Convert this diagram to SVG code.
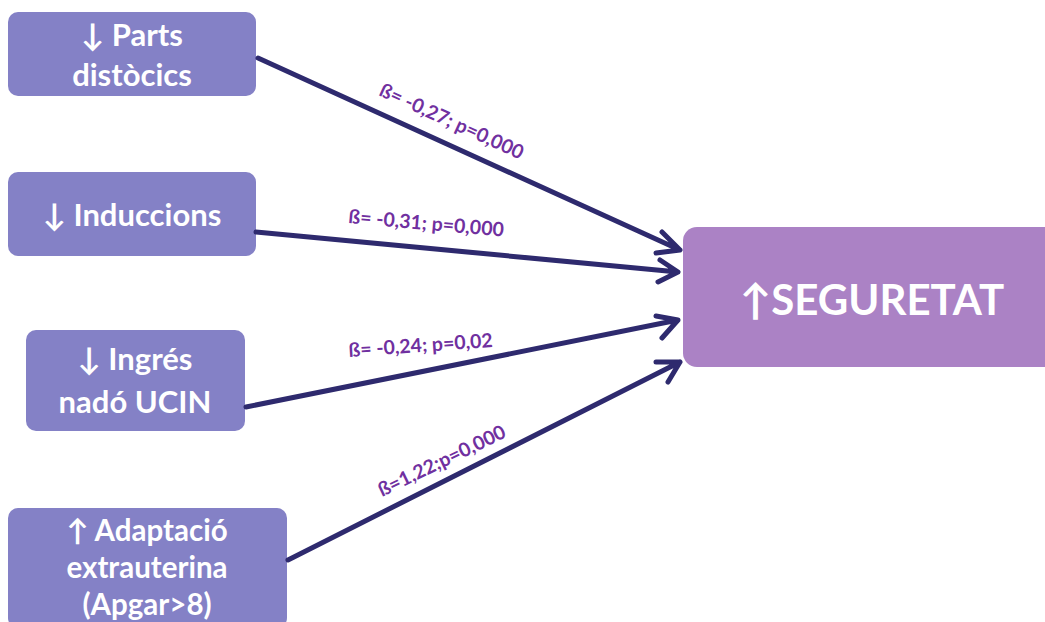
<svg xmlns="http://www.w3.org/2000/svg" width="1045" height="622" viewBox="0 0 1045 622">
<style>
.src{fill:#8481C6}
.dst{fill:#AB82C5}
.t{font-family:Lato,"Liberation Sans",sans-serif;font-weight:bold;fill:#fff;text-anchor:middle}
.b{font-size:31px}
.s{font-size:29.5px}
.big{font-size:42px}
.lbl{font-family:Lato,"Liberation Sans",sans-serif;font-weight:bold;font-size:19.5px;fill:#7030A0}
.c{stroke:#2E2A6E;stroke-width:5;fill:none;stroke-linecap:round;stroke-linejoin:round}
</style>
<rect width="1045" height="622" fill="#fff"/>
<g id="n1"><rect class="src" x="8" y="12" width="248" height="84" rx="10"/>
<text class="t b" x="132" y="46">↓ Parts</text><text class="t b" x="132" y="86">distòcics</text></g>
<g id="n2"><rect class="src" x="8" y="172" width="248" height="84" rx="10"/>
<text class="t b" x="132" y="226">↓ Induccions</text></g>
<g id="n3"><rect class="src" x="26" y="330" width="219" height="101" rx="10"/>
<text class="t b" x="135" y="370">↓ Ingrés</text><text class="t b" x="135" y="413">nadó UCIN</text></g>
<g id="n4"><rect class="src" x="8" y="508" width="279" height="120" rx="10"/>
<text class="t s" x="147" y="541">↑ Adaptació</text><text class="t s" x="147" y="578">extrauterina</text><text class="t s" x="147" y="615">(Apgar&gt;8)</text></g>
<g id="n5"><rect class="dst" x="683" y="227" width="380" height="140" rx="14"/>
<text class="t big" x="872" y="315">↑SEGURETAT</text></g>
<g id="connectors">
<path class="c" d="M258,58 L680,250 M662,232 L680,250 L656,253"/>
<path class="c" d="M256,232 L678,272 M660,260 L678,272 L658,282"/>
<path class="c" d="M246,407 L678,320 M656,316 L678,320 L662,338"/>
<path class="c" d="M288,560 L680,362 M656,362 L680,362 L668,382"/>
</g>
<g id="labels">
<text class="lbl" transform="translate(378,95) rotate(24.5)">ß= -0,27; p=0,000</text>
<text class="lbl" transform="translate(348,223) rotate(5)">ß= -0,31; p=0,000</text>
<text class="lbl" transform="translate(349,357) rotate(-4)">ß= -0,24; p=0,02</text>
<text class="lbl" transform="translate(382,497) rotate(-25.7)">ß=1,22;p=0,000</text>
</g>
</svg>
